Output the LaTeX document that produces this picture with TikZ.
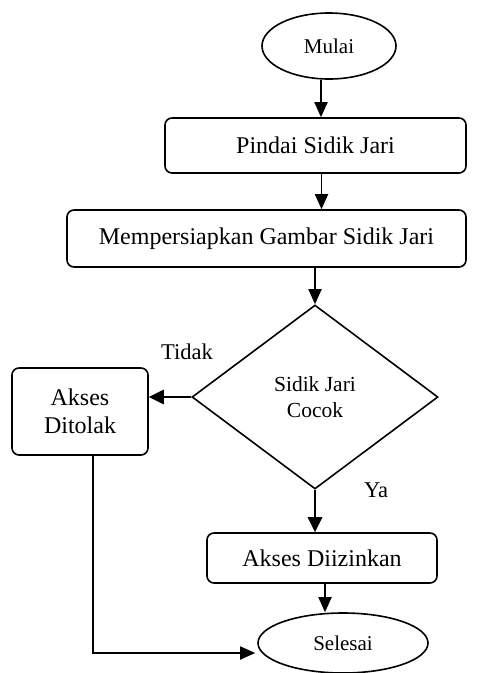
\documentclass[tikz,border=0pt]{standalone}
\usepackage{fontspec}
\setmainfont{Liberation Serif}
\usetikzlibrary{shapes.geometric,arrows.meta}
\tikzset{
  procbox/.style={draw, line width=1.6pt, rounded corners=7pt, inner sep=0pt, font=\fontsize{24}{28}\selectfont, align=center},
  termnode/.style={draw, ellipse, line width=1.6pt, inner sep=0pt, font=\fontsize{21}{24}\selectfont},
  decnode/.style={draw, diamond, line width=1.6pt, inner sep=0pt, font=\fontsize{21.5}{26}\selectfont, align=center},
  flow/.style={line width=1.8pt, -{Triangle[length=15pt,width=13pt]}},
  flowthick/.style={line width=2.8pt, -{Triangle[length=15pt,width=14pt]}},
  lbl/.style={font=\fontsize{22.5}{26}\selectfont, inner sep=0pt}
}
\begin{document}
\begin{tikzpicture}[x=1pt,y=-1pt]
\useasboundingbox (0,0) rectangle (481,673);
\node[termnode, minimum width=134pt, minimum height=66pt] (mulai) at (329,46) {Mulai};
\node[procbox, minimum width=301pt, minimum height=55pt] (pindai) at (315.5,145.5) {Pindai Sidik Jari};
\node[procbox, minimum width=399pt, minimum height=57pt] (memp) at (266.5,238.5) {Mempersiapkan Gambar Sidik Jari};
\node[decnode, minimum width=246pt, minimum height=184pt] (dia) at (315,397) {Sidik Jari\\Cocok};
\node[procbox, minimum width=136pt, minimum height=87pt] (tolak) at (80,411.5) {Akses\\Ditolak};
\node[procbox, minimum width=230pt, minimum height=50pt] (izin) at (322,558) {Akses Diizinkan};
\node[termnode, minimum width=170pt, minimum height=60pt] (selesai) at (343,643) {Selesai};
\node[lbl] (tidak) at (187,352) {Tidak};
\node[lbl] (ya) at (376,490) {Ya};
\coordinate (c1) at (93,653);
\draw[flow] ([xshift=-8pt]mulai.south) -- ([xshift=-8pt]mulai.south |- pindai.north);
\draw[flow] ([xshift=6pt]pindai.south) -- ([xshift=6pt]pindai.south |- memp.north);
\draw[flow] (memp.south -| dia.north) -- (dia.north);
\draw[flowthick] (dia.west) -- (dia.west -| tolak.east);
\draw[flowthick] (dia.south) -- (dia.south |- izin.north);
\draw[flow] ([xshift=3pt]izin.south) -- ([xshift=3pt]izin.south |- selesai.north);
\draw[flow] (tolak.south -| c1) -- (c1) -- ([xshift=-2pt]selesai.west |- c1);
\end{tikzpicture}
\end{document}
